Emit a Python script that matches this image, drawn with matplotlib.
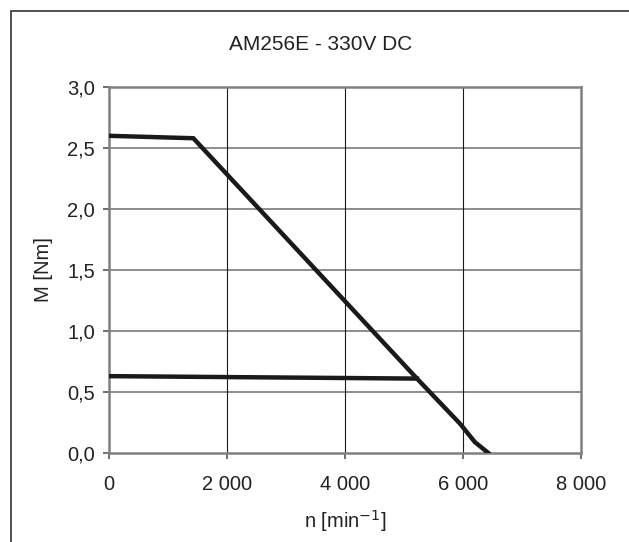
import matplotlib
matplotlib.use("Agg")
import matplotlib.pyplot as plt
from matplotlib.patches import Rectangle

plt.rcParams['font.family'] = ['Liberation Sans', 'DejaVu Sans']

# torque curves
peak_n = [0, 1430, 5220, 5950, 6200, 6430]
peak_m = [2.60, 2.58, 0.61, 0.24, 0.09, 0.0]
cont_n = [0, 5220]
cont_m = [0.63, 0.61]

x_ticks = [0, 2000, 4000, 6000, 8000]
x_labels = ['0', '2 000', '4 000', '6 000', '8 000']
y_ticks = [0.0, 0.5, 1.0, 1.5, 2.0, 2.5, 3.0]
y_labels = ['0,0', '0,5', '1,0', '1,5', '2,0', '2,5', '3,0']

fig = plt.figure(figsize=(6.29, 5.42), dpi=100)
ax = fig.add_axes([109 / 629, 1 - 453 / 542, 472 / 629, 366 / 542])

ax.set_xlim(0, 8000)
ax.set_ylim(0, 3.0)
ax.set_xticks(x_ticks)
ax.set_xticklabels(x_labels)
ax.set_yticks(y_ticks)
ax.set_yticklabels(y_labels)

for y in y_ticks[1:-1]:
    ax.axhline(y, color='#7a7a7a', lw=1.2, zorder=1)
for x in x_ticks[1:-1]:
    ax.axvline(x, color='#1a1a1a', lw=0.8, zorder=1)

ax.plot(peak_n, peak_m, color='#1a1a1a', lw=3.2, solid_joinstyle='miter', zorder=3)
ax.plot(cont_n, cont_m, color='#1a1a1a', lw=3.2, zorder=3)

for s in ax.spines.values():
    s.set_color('#808080')
    s.set_linewidth(1.8)
ax.tick_params(colors='#555555', length=4, width=1.2, labelsize=14.5, labelcolor='#222222')
ax.tick_params(axis='x', pad=12)
ax.tick_params(axis='y', pad=6)

ax.set_xlabel('n [min$^{-1}$]', fontsize=14.5, color='#222222', labelpad=10)
ax.set_ylabel('M [Nm]', fontsize=14.5, color='#222222', labelpad=10)
fig.text(321 / 629, 1 - 45 / 542, 'AM256E - 330V DC', ha='center', va='center',
         fontsize=15, color='#222222')

fig.patches.append(Rectangle((11 / 629, -0.05), 1.1, 1 - 11 / 542 + 0.05,
                             transform=fig.transFigure, fill=False,
                             edgecolor='#333333', lw=1.2))

fig.savefig('out.png', dpi=100)
